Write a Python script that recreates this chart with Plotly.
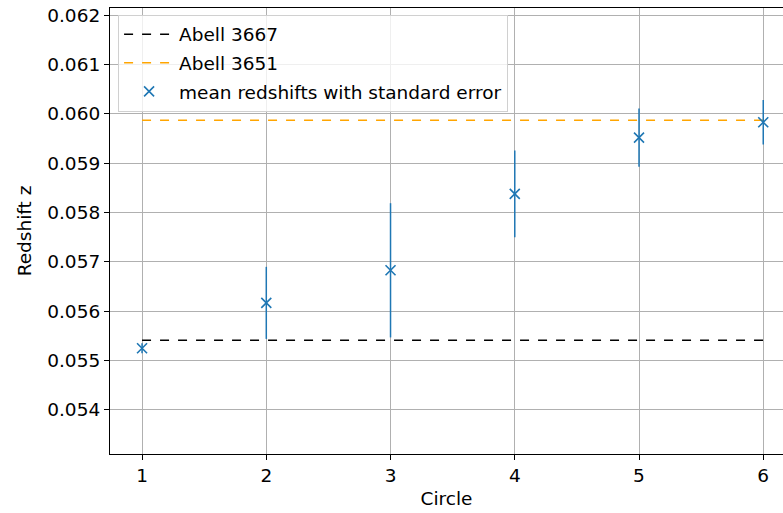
import plotly.graph_objects as go

circles = [1, 2, 3, 4, 5, 6]
mean_z = [0.05525, 0.05617, 0.05683, 0.05838, 0.05952, 0.05983]
std_err = [0.00010, 0.00073, 0.00136, 0.00088, 0.00059, 0.00045]
abell3667_z = 0.05541
abell3651_z = 0.05987
line_x = [1, 6]

FONT = "DejaVu Sans"
FS = 18.5
fig = go.Figure()

fig.add_trace(go.Scatter(
    x=line_x, y=[abell3667_z, abell3667_z], mode="lines", name="Abell 3667",
    line=dict(color="black", dash="dash", width=1.5), legendgroup="a"))
fig.add_trace(go.Scatter(
    x=line_x, y=[abell3651_z, abell3651_z], mode="lines", name="Abell 3651",
    line=dict(color="#FFA500", dash="dash", width=1.5), legendgroup="b"))
fig.add_trace(go.Scatter(
    x=circles, y=mean_z, mode="markers", name="mean redshifts with standard error",
    marker=dict(symbol="x-thin", size=10, color="#1f77b4",
                line=dict(color="#1f77b4", width=1.6)),
    error_y=dict(type="data", array=std_err, visible=True, color="#1f77b4",
                 thickness=1.5, width=0),
    legendgroup="c"))

fig.update_layout(
    width=783, height=513,
    margin=dict(l=110, r=0, t=8, b=59),
    plot_bgcolor="white", paper_bgcolor="white",
    font=dict(family=FONT, size=FS, color="black"),
    showlegend=True,
    legend=dict(x=0.012, y=0.985, xanchor="left", yanchor="top",
                bgcolor="rgba(255,255,255,0.8)", bordercolor="#d0d0d0", borderwidth=1,
                font=dict(size=FS), tracegroupgap=1.5, itemwidth=50),
)
fig.update_xaxes(
    range=[0.742, 6.159], tickvals=circles, ticktext=[str(c) for c in circles],
    showgrid=True, gridcolor="#b0b0b0", gridwidth=1,
    showline=True, linecolor="black", linewidth=1.2, mirror=True,
    ticks="outside", ticklen=5, tickcolor="black",
    title=dict(text="Circle", font=dict(size=FS), standoff=6), zeroline=False)
fig.update_yaxes(
    range=[0.053107, 0.062146], tickvals=[0.054, 0.055, 0.056, 0.057, 0.058, 0.059, 0.060, 0.061, 0.062],
    tickformat=".3f",
    showgrid=True, gridcolor="#b0b0b0", gridwidth=1,
    showline=True, linecolor="black", linewidth=1.2,
    ticks="outside", ticklen=5, tickcolor="black",
    title=dict(text="Redshift z", font=dict(size=FS), standoff=10), zeroline=False)

fig.write_html("out.html")
